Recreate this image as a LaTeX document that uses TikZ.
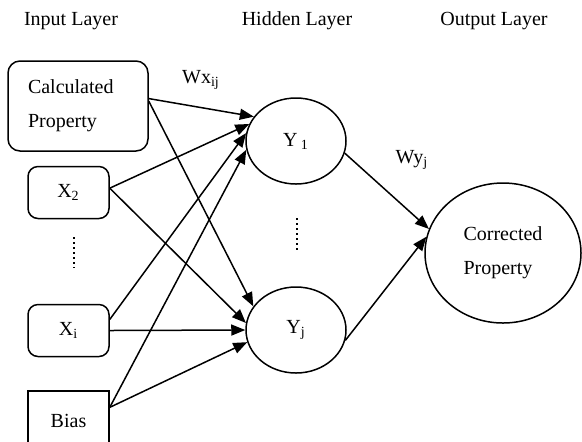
\documentclass[tikz,border=0pt]{standalone}
\usepackage{fontspec}
\setmainfont{Liberation Serif}
\usetikzlibrary{shapes.geometric,arrows.meta}

\begin{document}
\begin{tikzpicture}[x=0.5pt, y=-0.5pt,
    >={Triangle[length=7pt,width=5.5pt]},
    line width=0.75pt,
    font=\fontsize{10}{17}\selectfont,
    inputnode/.style={draw, rounded corners=5pt, minimum width=40.5pt, minimum height=26pt, inner sep=0pt},
    biasnode/.style={draw, minimum width=40.5pt, minimum height=30pt, inner sep=0pt},
    hiddennode/.style={ellipse, draw, minimum width=50pt, minimum height=43pt, inner sep=0pt},
    outputnode/.style={ellipse, draw, minimum width=78pt, minimum height=70pt, inner sep=0pt, align=left},
    dotline/.style={line width=1.2pt, dash pattern=on 1.2pt off 1.3pt}
    ]
    \useasboundingbox (0,0) rectangle (582,441);

    \node (inlabel) at (71,21) {Input Layer};
    \node (hidlabel) at (297,21) {Hidden Layer};
    \node (outlabel) at (494,21) {Output Layer};

    \node [draw, rounded corners=6pt, minimum height=45pt, text width=50pt, inner xsep=10pt, align=left] (calc) at (78,106) {Calculated\\Property};
    \node [inputnode] (x2) at (68.5,192.5) {X\textsubscript{2}};
    \node [inputnode] (xi) at (68.5,330.5) {X\textsubscript{i}};
    \node [biasnode, anchor=north] (bias) at (68.5,390) {\raisebox{-3pt}{Bias}};
    \draw [dotline] (74,237) -- (74,268);

    \node [hiddennode] (y1) at (296,141) {Y\,\textsubscript{1}};
    \node [hiddennode] (yj) at (296,330) {Y\textsubscript{j}};
    \draw [dotline] (297,218) -- (297,252);

    \node [outputnode] (out) at (503,253) {Corrected\\Property};

    \node (wx) at (201,80) {Wx\textsubscript{ij}};
    \node (wy) at (412,160) {Wy\textsubscript{j}};

    \draw [->] (calc.6) -- (y1.150);
    \draw [->] (calc.4) -- (yj.151);
    \draw [->] (x2.6) -- (y1.160);
    \draw [->] (x2.6) -- (yj.172);
    \draw [->] (xi.15) -- (y1.171);
    \draw [->] (xi.east) -- (yj.west);
    \draw [->] (bias.18) -- (y1.190);
    \draw [->] (bias.18) -- (yj.194);

    \draw [->] (y1.346) -- (out.162);
    \draw [->] (yj.348) -- (out.168);
\end{tikzpicture}
\end{document}
